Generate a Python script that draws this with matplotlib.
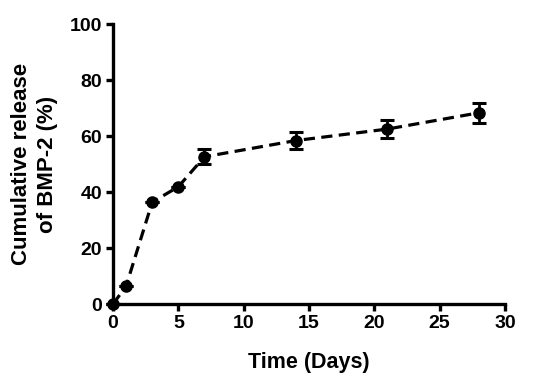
import matplotlib
matplotlib.use("Agg")
import matplotlib.pyplot as plt

# data
days = [0, 1, 3, 5, 7, 14, 21, 28]
release = [0, 6.4, 36.4, 41.9, 52.6, 58.4, 62.5, 68.3]
err = [0, 0, 0, 0, 2.7, 3.0, 3.2, 3.6]

plt.rcParams["font.family"] = ["Liberation Sans", "DejaVu Sans"]
plt.rcParams["font.weight"] = "bold"

fig = plt.figure(figsize=(5.5, 3.82), dpi=100)
ax = fig.add_axes([0.2055, 0.204, 0.7125, 0.733])

ax.errorbar(days, release, yerr=err, fmt="o", color="black", ms=8,
            ecolor="black", elinewidth=2, capsize=5, capthick=2.2,
            linestyle=(0, (3.5, 2)), linewidth=2.3, clip_on=False, zorder=3)

ax.set_xlim(0, 30)
ax.set_ylim(0, 100)
ax.set_xticks(range(0, 31, 5))
ax.set_yticks(range(0, 101, 20))

for s in ["top", "right"]:
    ax.spines[s].set_visible(False)
for s in ["left", "bottom"]:
    ax.spines[s].set_linewidth(2.4)

ax.tick_params(direction="out", length=5, width=2.4, labelsize=14, pad=3)
for lab in ax.get_xticklabels() + ax.get_yticklabels():
    lab.set_fontweight("bold")

ax.set_xlabel("Time (Days)", fontsize=15.5, fontweight="bold", labelpad=14)
ax.set_ylabel("Cumulative release\nof BMP-2 (%)", fontsize=16, fontweight="bold",
              labelpad=8, linespacing=1.35)

fig.savefig("out.png", dpi=100)
